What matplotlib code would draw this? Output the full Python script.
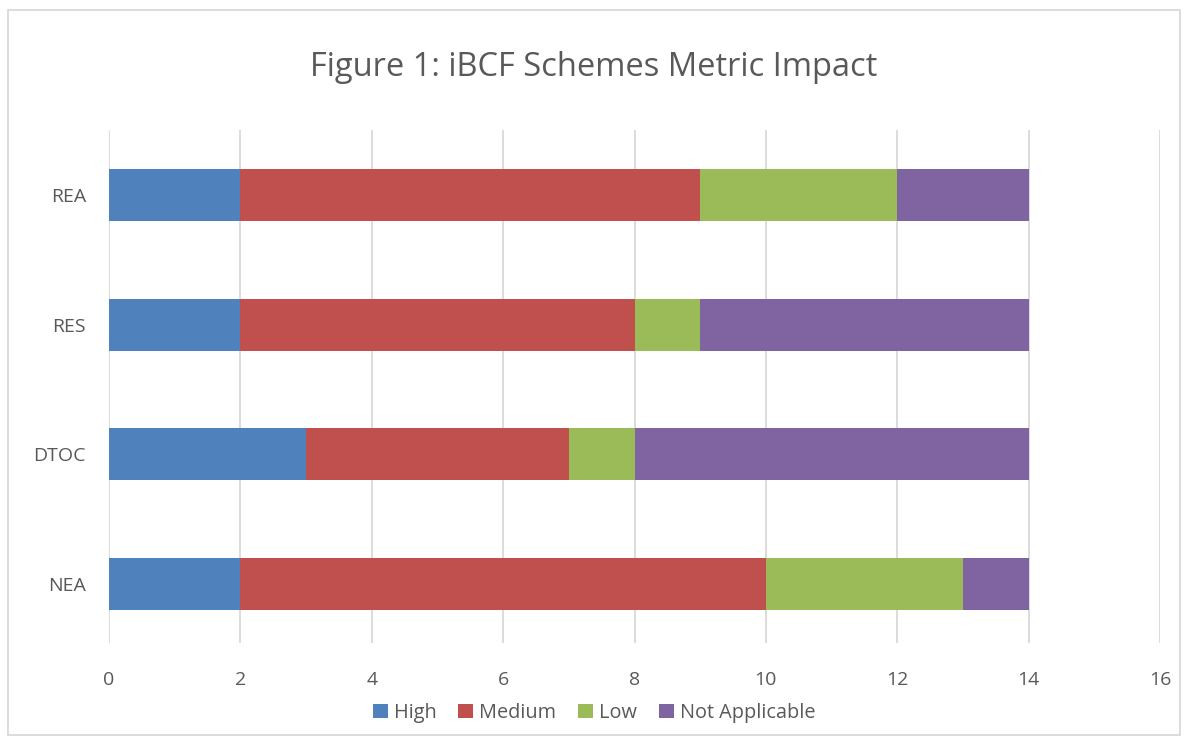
import matplotlib
matplotlib.use("Agg")
import matplotlib.pyplot as plt
from matplotlib.patches import Rectangle
import numpy as np

categories = ["NEA", "DTOC", "RES", "REA"]
series_names = ["High", "Medium", "Low", "Not Applicable"]
high = [2, 3, 2, 2]
medium = [8, 4, 6, 7]
low = [3, 1, 1, 3]
not_applicable = [1, 6, 5, 2]
colors = ["#4F81BD", "#C0504D", "#9BBB59", "#8064A2"]
xticks = [0, 2, 4, 6, 8, 10, 12, 14, 16]

plt.rcParams['font.family'] = ['Open Sans', 'DejaVu Sans']
fig = plt.figure(figsize=(11.88, 7.44), dpi=100)
ax = fig.add_axes([109/1188, 1 - 643/744, (1160-109)/1188, (643-130)/744])

y = np.arange(len(categories))
left = np.zeros(len(categories))
for name, vals, c in zip(series_names, [high, medium, low, not_applicable], colors):
    ax.barh(y, vals, left=left, height=0.4, color=c, label=name, zorder=3)
    left += np.array(vals)

ax.set_xlim(0, 16)
ax.set_ylim(-0.455, 3.5)
ax.set_xticks(xticks)
ax.set_yticks(y)
ax.set_yticklabels(categories)
ax.xaxis.grid(True, color="#D9D9D9", linewidth=1.3, zorder=0)
ax.set_axisbelow(True)
for s in ax.spines.values():
    s.set_visible(False)
ax.tick_params(axis='both', length=0, labelsize=14, colors="#595959")
ax.tick_params(axis='x', pad=20)
ax.tick_params(axis='y', pad=16.5)

fig.text(0.5, 1 - 67/744, "Figure 1: iBCF Schemes Metric Impact", ha='center', va='center',
         fontsize=23.5, color="#595959")

leg = fig.legend(loc='center', bbox_to_anchor=(0.5, 1 - 713/744), ncol=4, frameon=False,
                 fontsize=14.3, handlelength=0.75, handleheight=0.75, handletextpad=0.3,
                 columnspacing=1.1)
for t in leg.get_texts():
    t.set_color("#595959")

fig.patches.append(Rectangle((8/1188, 1 - 735/744), (1180-8)/1188, (735-10)/744,
                             transform=fig.transFigure, fill=False, edgecolor="#D9D9D9",
                             linewidth=1.3))

fig.savefig("out.png", dpi=100)
